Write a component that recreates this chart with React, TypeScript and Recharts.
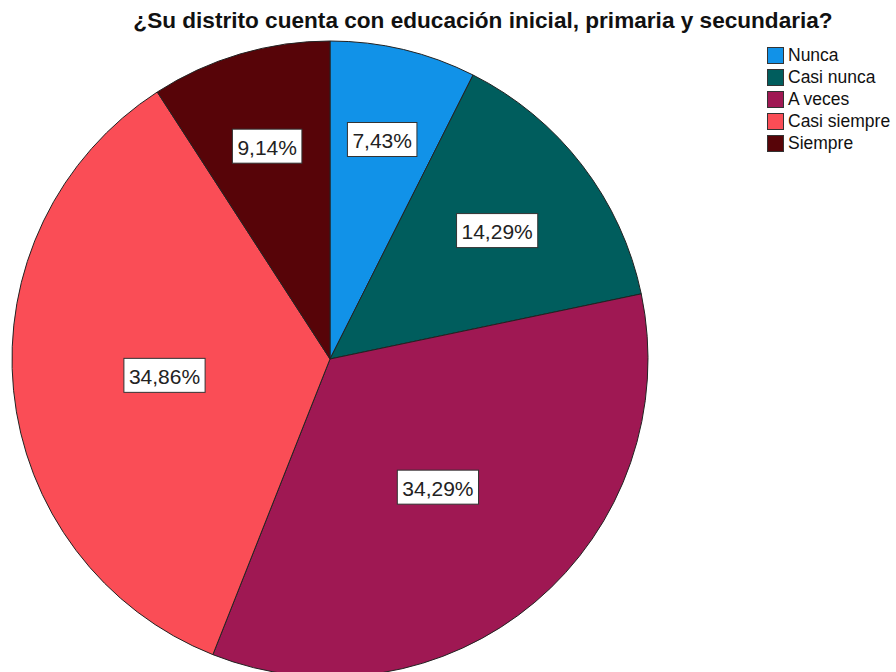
import { PieChart, Pie, Cell, Legend } from 'recharts';

const categories = ['Nunca', 'Casi nunca', 'A veces', 'Casi siempre', 'Siempre'];
const percents = [7.43, 14.29, 34.29, 34.86, 9.14];
const colors = ['#1192E8', '#005D5D', '#9F1853', '#FA4D56', '#570408'];
const title = '¿Su distrito cuenta con educación inicial, primaria y secundaria?';

const data = categories.map((name, i) => ({ name, value: percents[i] }));

const FONT = '"Liberation Sans", Arial, sans-serif';
const RAD = Math.PI / 180;

const PctLabel = (props: any) => {
    const { cx, cy, midAngle, outerRadius, percent, value } = props;
    // bigger slices get their label closer to the centre
    const r = outerRadius * (0.76 - 0.68 * percent);
    const x = cx + r * Math.cos(-midAngle * RAD);
    const y = cy + r * Math.sin(-midAngle * RAD);
    const txt = value.toFixed(2).replace('.', ',') + '%';
    const w = txt.length * 11.7 + 11;
    const h = 34;
    return (
        <g>
            <rect x={x - w / 2} y={y - h / 2} width={w} height={h} fill="#fff" stroke="#333" strokeWidth={1} />
            <text x={x} y={y + 1} textAnchor="middle" dominantBaseline="central" fontFamily={FONT} fontSize={21} fill="#222">
                {txt}
            </text>
        </g>
    );
};

const LegendBox = () => (
    <div style={{ fontFamily: FONT, fontSize: 17.5, color: '#111' }}>
        {categories.map((c, i) => (
            <div key={c} style={{ display: 'flex', alignItems: 'center', height: 22 }}>
                <span style={{ width: 17, height: 17, background: colors[i], border: '1px solid #333', boxSizing: 'border-box', marginRight: 4 }} />
                <span>{c}</span>
            </div>
        ))}
    </div>
);

export default function App() {
    return (
        <div style={{ position: 'absolute', left: 0, top: 0, width: 896, height: 672, background: '#fff', overflow: 'hidden' }}>
            <div style={{ position: 'absolute', left: 0, width: 966, top: 8, textAlign: 'center', fontFamily: FONT, fontWeight: 'bold', fontSize: 22.6, color: '#111', whiteSpace: 'nowrap' }}>
                {title}
            </div>
            <PieChart width={896} height={672} margin={{ top: 0, right: 0, bottom: 0, left: 0 }}>
                <Pie
                    data={data}
                    dataKey="value"
                    nameKey="name"
                    cx={330}
                    cy={359}
                    outerRadius={318}
                    startAngle={90}
                    endAngle={-270}
                    stroke="#222"
                    strokeWidth={1}
                    label={PctLabel}
                    labelLine={false}
                    isAnimationActive={false}
                >
                    {data.map((d, i) => (
                        <Cell key={d.name} fill={colors[i]} />
                    ))}
                </Pie>
                <Legend content={<LegendBox />} layout="vertical" wrapperStyle={{ position: 'absolute', left: 767, top: 44, width: 129 }} />
            </PieChart>
        </div>
    );
}
